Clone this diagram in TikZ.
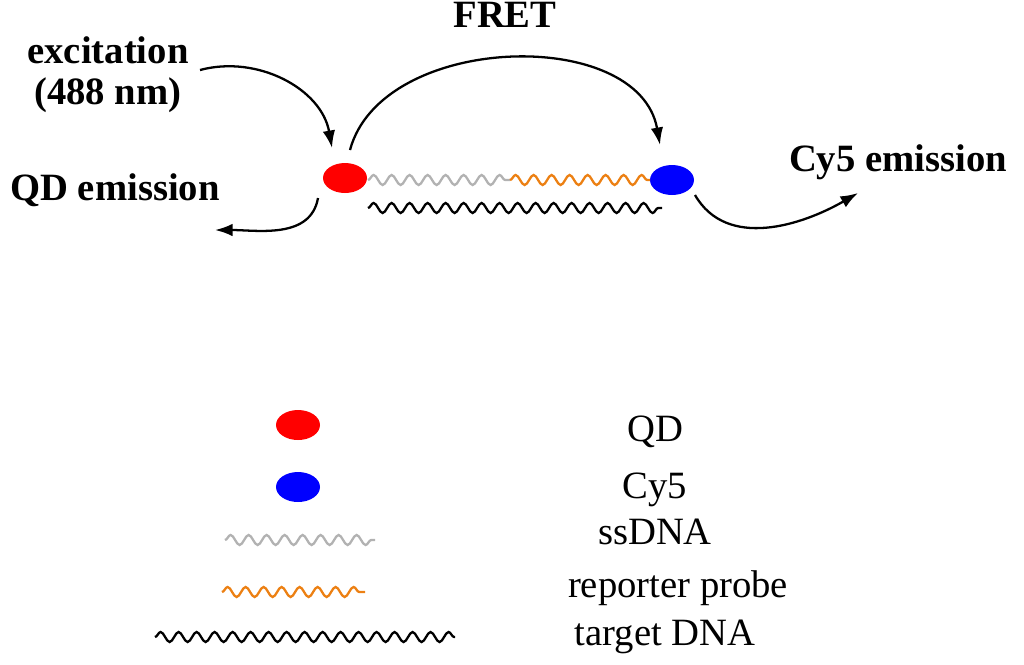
\documentclass[tikz,border=0pt]{standalone}
\usepackage{fontspec}
\setmainfont{Liberation Serif}
\usetikzlibrary{shapes.geometric, arrows.meta, decorations.pathmorphing}

\begin{document}
\begin{tikzpicture}[x=0.02cm, y=-0.02cm,
    dot/.style = {ellipse, minimum width=0.88cm, minimum height=0.6cm, inner sep=0pt},
    wave/.style = {line width=1.3pt, decorate, decoration={snake, amplitude=0.1cm, segment length=0.36cm}},
    curvearrow/.style = {-{Latex[length=0.35cm, width=0.25cm]}, line width=1.3pt},
    lbl/.style = {font=\fontsize{22}{26}\selectfont\bfseries},
    leg/.style = {font=\fontsize{22}{26}\selectfont}]
    \useasboundingbox (0,0) rectangle (1024,664);
    % top scheme
    \node[dot, fill=red] at (345,178) (qd) {};
    \node[dot, fill=blue] at (672,180) (cy) {};
    \coordinate (g0) at (368,180);
    \coordinate (g1) at (510,180);
    \coordinate (o1) at (650,180);
    \coordinate (t0) at (368,208);
    \coordinate (t1) at (662,208);
    \draw[wave, gray!60] (g0) -- (g1);
    \draw[wave, orange!70!brown] (g1) -- (o1);
    \draw[wave] (t0) -- (t1);
    \node[lbl] at (108,50) (exc) {excitation};
    \node[lbl] at (108,95) (nm) {(488 nm)};
    \node[lbl] at (505,15) (fret) {FRET};
    \node[lbl] at (115,190) (qdem) {QD emission};
    \node[lbl] at (898,162) (cyem) {Cy5 emission};
    \coordinate (ex0) at (200,70);
    \coordinate (ex1) at (332,148);
    \coordinate (fr0) at (350,150);
    \coordinate (fr1) at (660,145);
    \coordinate (qe0) at (318,198);
    \coordinate (qe1) at (215,230);
    \coordinate (ce0) at (695,195);
    \coordinate (ce1) at (858,193);
    \draw[curvearrow] (ex0) to[out=15, in=100] (ex1);
    \draw[curvearrow] (fr0) to[out=75, in=100] (fr1);
    \draw[curvearrow] (qe0) to[out=-100, in=0] (qe1);
    \draw[curvearrow] (ce0) to[out=-60, in=-150] (ce1);
    % legend
    \node[dot, fill=red] at (298,425) (lqd) {};
    \node[dot, fill=blue] at (298,487) (lcy) {};
    \coordinate (lg0) at (225,540);
    \coordinate (lg1) at (375,540);
    \coordinate (lo0) at (222,592);
    \coordinate (lo1) at (365,592);
    \coordinate (lt0) at (155,637);
    \coordinate (lt1) at (455,637);
    \draw[wave, gray!60] (lg0) -- (lg1);
    \draw[wave, orange!70!brown] (lo0) -- (lo1);
    \draw[wave] (lt0) -- (lt1);
    \node[leg] at (655,432) (tqd) {QD};
    \node[leg] at (655,490) (tcy) {Cy5};
    \node[leg] at (655,532) (tss) {ssDNA};
    \node[leg] at (678,588) (trp) {reporter probe};
    \node[leg] at (665,637) (ttg) {target DNA};
\end{tikzpicture}
\end{document}
